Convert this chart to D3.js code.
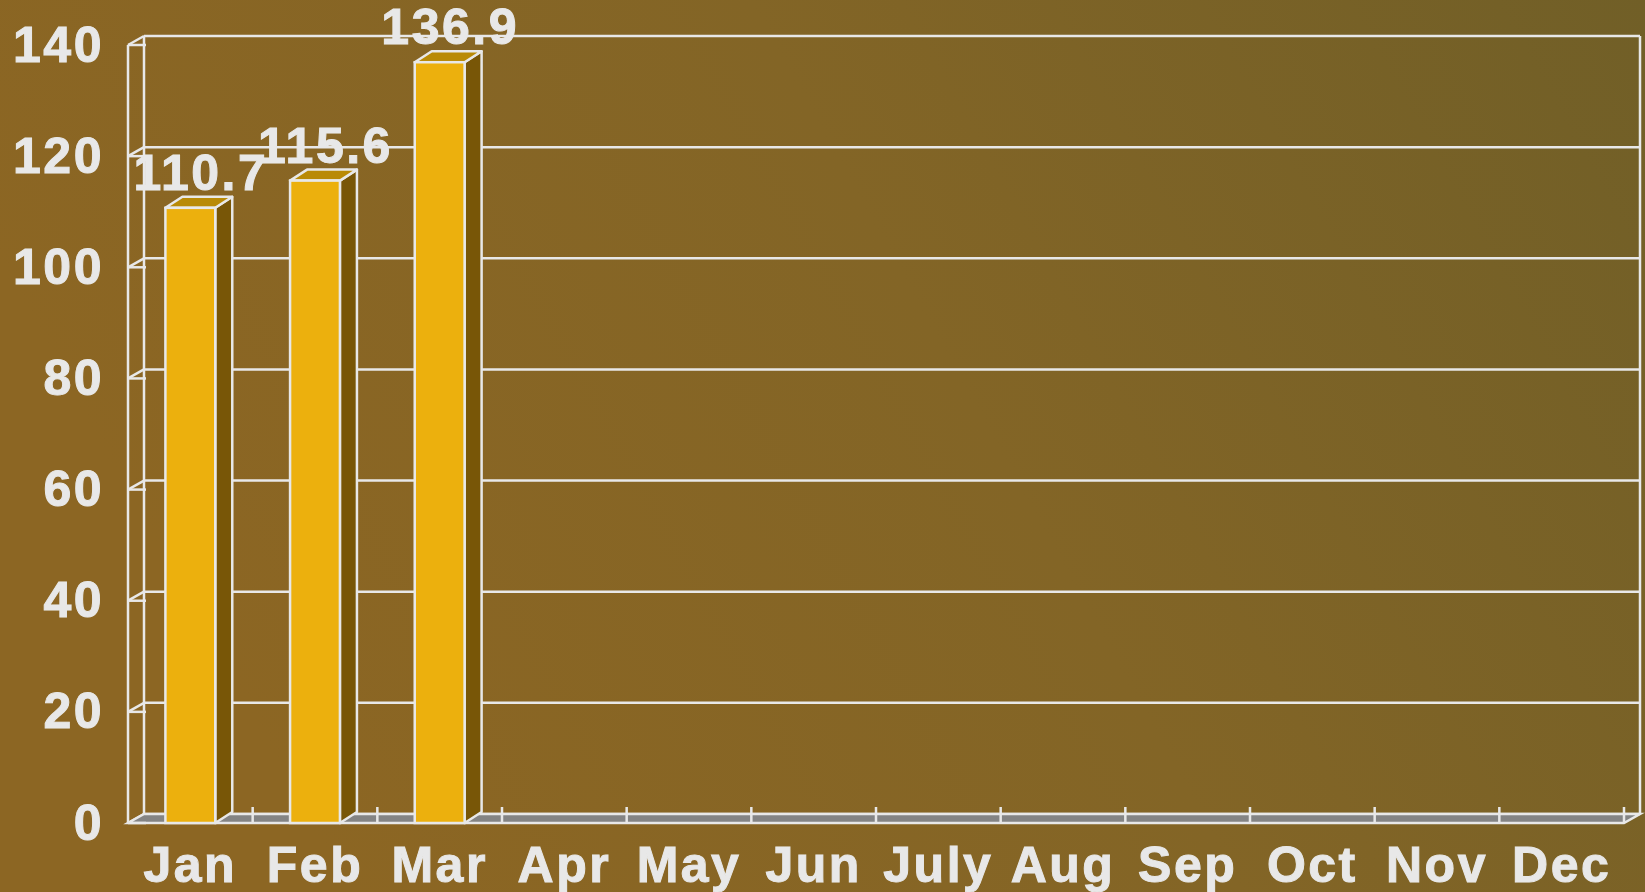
<!DOCTYPE html>
<html>
<head>
<meta charset="utf-8">
<script src="https://cdn.jsdelivr.net/npm/d3@7"></script>
<style>
  html, body { margin: 0; padding: 0; overflow: hidden; }
  text { font-family: "Liberation Sans", Arial, sans-serif; font-weight: bold; fill: #e8e8e8; stroke: #e8e8e8; stroke-width: 1px; }
</style>
</head>
<body>
<div id="chart"></div>
<script>
// data
const months = ["Jan", "Feb", "Mar", "Apr", "May", "Jun", "July", "Aug", "Sep", "Oct", "Nov", "Dec"];
const values = [110.7, 115.6, 136.9];
const yTicks = [0, 20, 40, 60, 80, 100, 120, 140];

const W = 1645, H = 892;
// depth of the 3d box and of the bars
const dx = 16, dy = 9;
const bdx = 17, bdy = 11;
const line = "#e8e8e8";
const sw = 2.5;

const svg = d3.select("#chart")
  .append("svg")
  .attr("width", W)
  .attr("height", H);

// background gradient
const grad = svg.append("defs").append("linearGradient")
  .attr("id", "bg")
  .attr("x1", "0").attr("y1", "0.3")
  .attr("x2", "1").attr("y2", "0");
grad.append("stop").attr("offset", "0").attr("stop-color", "#8c6623");
grad.append("stop").attr("offset", "0.5").attr("stop-color", "#836526");
grad.append("stop").attr("offset", "1").attr("stop-color", "#715f27");
svg.append("rect").attr("width", W).attr("height", H).attr("fill", "url(#bg)");

// scales are for the front plane
const x = d3.scaleBand().domain(months).range([128, 1624]);
const y = d3.scaleLinear().domain([0, 140]).range([823, 45]);

// back wall gridlines
svg.append("g")
  .selectAll("line")
  .data(yTicks)
  .join("line")
  .attr("x1", 128 + dx).attr("x2", 1624 + dx)
  .attr("y1", d => y(d) - dy).attr("y2", d => y(d) - dy)
  .attr("stroke", line).attr("stroke-width", sw);

// side wall diagonals
svg.append("g")
  .selectAll("line")
  .data(yTicks)
  .join("line")
  .attr("x1", 128).attr("x2", 128 + dx)
  .attr("y1", d => y(d)).attr("y2", d => y(d) - dy)
  .attr("stroke", line).attr("stroke-width", sw);

// back wall verticals
svg.append("line")
  .attr("x1", 128 + dx).attr("x2", 128 + dx)
  .attr("y1", y(140) - dy).attr("y2", y(0) - dy)
  .attr("stroke", line).attr("stroke-width", sw);
svg.append("line")
  .attr("x1", 1624 + dx).attr("x2", 1624 + dx)
  .attr("y1", y(140) - dy).attr("y2", y(0) - dy)
  .attr("stroke", line).attr("stroke-width", sw);

// floor
svg.append("path")
  .attr("d", `M128,${y(0)} L1624,${y(0)} L${1624 + dx},${y(0) - dy} L${128 + dx},${y(0) - dy} Z`)
  .attr("fill", "#848484")
  .attr("stroke", line).attr("stroke-width", sw);

// floor ticks at the band edges
svg.append("g")
  .selectAll("line")
  .data(months)
  .join("line")
  .attr("x1", d => x(d) + x.bandwidth()).attr("x2", d => x(d) + x.bandwidth())
  .attr("y1", y(0) - 16).attr("y2", y(0))
  .attr("stroke", line).attr("stroke-width", sw);

// front left axis line + ticks
svg.append("line")
  .attr("x1", 128).attr("x2", 128)
  .attr("y1", y(140)).attr("y2", y(0))
  .attr("stroke", line).attr("stroke-width", sw);
svg.append("g")
  .selectAll("line")
  .data(yTicks)
  .join("line")
  .attr("x1", 128).attr("x2", 146)
  .attr("y1", d => y(d)).attr("y2", d => y(d))
  .attr("stroke", line).attr("stroke-width", sw);

// bars
const barW = x.bandwidth() * 0.4;
const data = values.map((v, i) => ({ month: months[i], value: v }));

const bar = svg.append("g")
  .selectAll("g")
  .data(data)
  .join("g");

bar.append("path") // side
  .attr("d", d => {
    const x1 = x(d.month) + (x.bandwidth() + barW) / 2, y0 = y(0), y1 = y(d.value);
    return `M${x1},${y0} L${x1},${y1} L${x1 + bdx},${y1 - bdy} L${x1 + bdx},${y0 - bdy} Z`;
  })
  .attr("fill", "#785607")
  .attr("stroke", line).attr("stroke-width", sw).attr("stroke-linejoin", "round");

bar.append("path") // top
  .attr("d", d => {
    const x0 = x(d.month) + (x.bandwidth() - barW) / 2, x1 = x0 + barW, y1 = y(d.value);
    return `M${x0},${y1} L${x1},${y1} L${x1 + bdx},${y1 - bdy} L${x0 + bdx},${y1 - bdy} Z`;
  })
  .attr("fill", "#b98a06")
  .attr("stroke", line).attr("stroke-width", sw).attr("stroke-linejoin", "round");

bar.append("rect") // front
  .attr("x", d => x(d.month) + (x.bandwidth() - barW) / 2)
  .attr("y", d => y(d.value))
  .attr("width", barW)
  .attr("height", d => y(0) - y(d.value))
  .attr("fill", "#ecb00d")
  .attr("stroke", line).attr("stroke-width", sw);

// value labels
bar.append("text")
  .attr("x", d => x(d.month) + x.bandwidth() / 2 + bdx / 2 + 2)
  .attr("y", d => y(d.value) - bdy - 7)
  .attr("text-anchor", "middle")
  .style("font-size", "50px")
  .style("letter-spacing", "2.5px")
  .text(d => d.value.toFixed(1));

// axes labels
const yAxis = svg.append("g")
  .attr("transform", "translate(128,0)")
  .call(d3.axisLeft(y).tickValues(yTicks).tickSize(0).tickPadding(24));
yAxis.select(".domain").remove();
yAxis.selectAll("text")
  .attr("fill", "#e8e8e8")
  .style("font-family", "'Liberation Sans', Arial, sans-serif")
  .style("font-weight", "bold")
  .style("font-size", "50px")
  .style("letter-spacing", "2.5px");

const xAxis = svg.append("g")
  .attr("transform", `translate(0,${y(0)})`)
  .call(d3.axisBottom(x).tickSize(0).tickPadding(23));
xAxis.select(".domain").remove();
xAxis.selectAll("text")
  .attr("fill", "#e8e8e8")
  .style("font-family", "'Liberation Sans', Arial, sans-serif")
  .style("font-weight", "bold")
  .style("font-size", "50px")
  .style("letter-spacing", "2.5px");
</script>
</body>
</html>
